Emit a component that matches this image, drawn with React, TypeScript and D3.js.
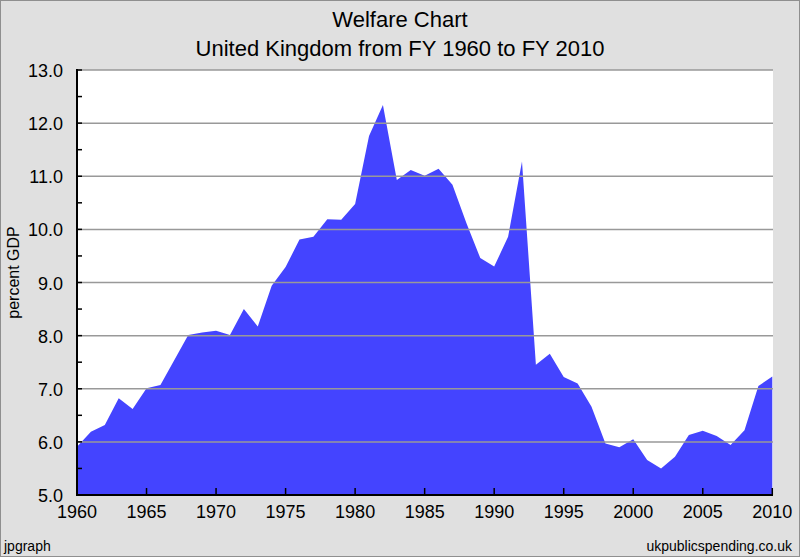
import * as d3 from "d3";

const years = [
  1960, 1961, 1962, 1963, 1964, 1965, 1966, 1967, 1968, 1969,
  1970, 1971, 1972, 1973, 1974, 1975, 1976, 1977, 1978, 1979,
  1980, 1981, 1982, 1983, 1984, 1985, 1986, 1987, 1988, 1989,
  1990, 1991, 1992, 1993, 1994, 1995, 1996, 1997, 1998, 1999,
  2000, 2001, 2002, 2003, 2004, 2005, 2006, 2007, 2008, 2009, 2010,
];

const welfare = [
  5.91, 6.19, 6.32, 6.82, 6.62, 7.01, 7.07, 7.54, 8.01, 8.06,
  8.09, 8.01, 8.50, 8.17, 8.94, 9.29, 9.81, 9.86, 10.19, 10.18,
  10.48, 11.76, 12.34, 10.93, 11.12, 11.01, 11.14, 10.84, 10.12, 9.46,
  9.30, 9.86, 11.28, 7.45, 7.66, 7.22, 7.10, 6.66, 5.97, 5.90,
  6.05, 5.66, 5.50, 5.72, 6.13, 6.21, 6.11, 5.94, 6.22, 7.05, 7.23,
];

const yTicks = [5, 6, 7, 8, 9, 10, 11, 12, 13];
const yMinor = [5.5, 6.5, 7.5, 8.5, 9.5, 10.5, 11.5, 12.5];
const xTicks = [1960, 1965, 1970, 1975, 1980, 1985, 1990, 1995, 2000, 2005, 2010];

const title = "Welfare Chart";
const subtitle = "United Kingdom from FY 1960 to FY 2010";
const yLabel = "percent GDP";
const leftNote = "jpgraph";
const rightNote = "ukpublicspending.co.uk";

export default function App() {
  const W = 800;
  const H = 557;
  const plot = { left: 77, right: 773, top: 70, bottom: 495 };
  const font = "'Liberation Sans', Arial, sans-serif";

  const x = d3.scaleLinear().domain([1960, 2010]).range([plot.left, plot.right - 0.7]);
  const y = d3.scaleLinear().domain([5, 13]).range([plot.bottom, plot.top]);

  const points = years.map((yr, i) => ({ yr, v: welfare[i] }));
  const area = d3.area<{ yr: number; v: number }>()
    .x(d => x(d.yr))
    .y0(y(5))
    .y1(d => y(d.v));

  return (
    <div style={{ position: "absolute", left: 0, top: 0 }}>
      <svg width={W} height={H} style={{ display: "block" }}>
        <rect x={0.5} y={0.5} width={W - 1} height={H - 1} fill="#e0e0e0" stroke="#8f8f8f" />

        <text x={400} y={27} textAnchor="middle" fontFamily={font} fontSize={22} fill="#000">{title}</text>
        <text x={400} y={56} textAnchor="middle" fontFamily={font} fontSize={22} fill="#000">{subtitle}</text>

        {/* plot area */}
        <rect x={plot.left} y={plot.top} width={plot.right - plot.left} height={plot.bottom - plot.top} fill="#fff" />

        <path d={area(points) ?? ""} fill="#4444ff" />

        {/* grid lines on top of the fill */}
        {yTicks.slice(1).map(t => (
          <line key={t} x1={plot.left} x2={plot.right} y1={y(t)} y2={y(t)} stroke="#999" strokeWidth={1.5} />
        ))}

        {/* axes */}
        <line x1={plot.left} x2={plot.left} y1={plot.top - 1} y2={plot.bottom + 1} stroke="#000" strokeWidth={2} />
        <line x1={plot.left - 1} x2={plot.right} y1={plot.bottom} y2={plot.bottom} stroke="#000" strokeWidth={2} />

        {yTicks.map(t => (
          <g key={t}>
            <line x1={plot.left} x2={plot.left + 5} y1={y(t)} y2={y(t)} stroke="#000" strokeWidth={1.5} />
            <text x={63} y={y(t) + 7} textAnchor="end" fontFamily={font} fontSize={18} fill="#000">{t.toFixed(1)}</text>
          </g>
        ))}
        {yMinor.map(t => (
          <line key={t} x1={plot.left} x2={plot.left + 5} y1={y(t)} y2={y(t)} stroke="#000" strokeWidth={1.5} />
        ))}

        {xTicks.map(t => (
          <g key={t}>
            <line x1={x(t)} x2={x(t)} y1={plot.bottom} y2={plot.bottom - 7} stroke="#000" strokeWidth={1.5} />
            <text x={x(t)} y={518} textAnchor="middle" fontFamily={font} fontSize={18} fill="#000">{t}</text>
          </g>
        ))}

        <text
          transform={`translate(19, ${(plot.top + plot.bottom) / 2 - 10}) rotate(-90)`}
          textAnchor="middle"
          fontFamily={font}
          fontSize={16}
          fill="#000"
        >
          {yLabel}
        </text>

        <text x={4} y={551} fontFamily={font} fontSize={14} fill="#000">{leftNote}</text>
        <text x={792} y={551} textAnchor="end" fontFamily={font} fontSize={14} fill="#000">{rightNote}</text>
      </svg>
    </div>
  );
}
